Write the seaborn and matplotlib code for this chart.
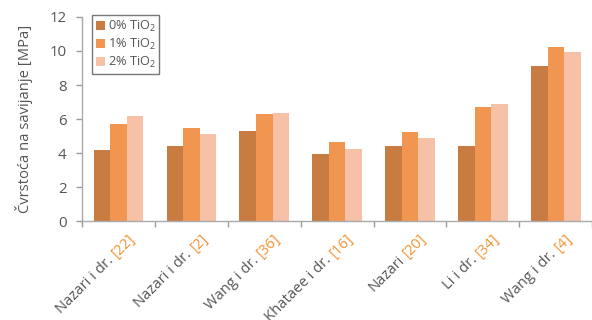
import matplotlib
matplotlib.use("Agg")
import matplotlib.pyplot as plt
import matplotlib.transforms as mtransforms
import seaborn as sns
import pandas as pd

authors = ["Nazari i dr.", "Nazari i dr.", "Wang i dr.", "Khataee i dr.", "Nazari", "Li i dr.", "Wang i dr."]
refs = ["[22]", "[2]", "[36]", "[16]", "[20]", "[34]", "[4]"]
series = ["0% TiO$_2$", "1% TiO$_2$", "2% TiO$_2$"]
tio2_0 = [4.2, 4.4, 5.3, 3.95, 4.4, 4.4, 9.1]
tio2_1 = [5.7, 5.5, 6.3, 4.65, 5.25, 6.7, 10.25]
tio2_2 = [6.2, 5.1, 6.35, 4.25, 4.9, 6.9, 9.95]
yticks = [0, 2, 4, 6, 8, 10, 12]

colors = ["#C87C42", "#F09650", "#F6C1A6"]
text_gray = "#555555"
ref_orange = "#F39232"

sns.set_style("white")
plt.rcParams["font.family"] = ["Open Sans", "DejaVu Sans"]
plt.rcParams["mathtext.default"] = "regular"

cats = [f"{a} {r}" for a, r in zip(authors, refs)]
rows = []
for name, vals in zip(series, [tio2_0, tio2_1, tio2_2]):
    for c, v in zip(cats, vals):
        rows.append({"cat": c, "serie": name, "val": v})
df = pd.DataFrame(rows)

fig = plt.figure(figsize=(5.92, 3.2), dpi=100)
ax = fig.add_axes([0.1385, 0.309, 0.862, 0.638])

sns.barplot(data=df, x="cat", y="val", hue="serie", palette=colors,
            saturation=1, width=0.68, linewidth=0, ax=ax)

ax.set_xlim(-0.5, len(cats) - 0.5)
ax.set_ylim(0, 12)
ax.set_yticks(yticks)
ax.set_xticks([i - 0.5 for i in range(len(cats) + 1)])
ax.set_xticklabels([])
ax.set_xlabel("")
ax.set_ylabel("Čvrstoća na savijanje [MPa]", fontsize=10.6, color=text_gray, labelpad=12)
ax.tick_params(axis="y", labelsize=10.8, labelcolor=text_gray, length=4, color="#999999", width=1, left=True, pad=7)
ax.tick_params(axis="x", length=4, color="#999999", width=1, bottom=True)
sns.despine(ax=ax)
for s in ["left", "bottom"]:
    ax.spines[s].set_color("#aaaaaa")
    ax.spines[s].set_linewidth(1)

leg = ax.legend(loc="upper left", bbox_to_anchor=(0.02, 1.01), borderaxespad=0,
                fontsize=9.2, frameon=True, fancybox=False, handlelength=0.7,
                handleheight=0.7, handletextpad=0.2, labelspacing=0.25,
                borderpad=0.3, labelcolor=text_gray)
leg.get_frame().set_edgecolor("#555555")
leg.get_frame().set_linewidth(1)

# two-coloured rotated category labels
fig.canvas.draw()
renderer = fig.canvas.get_renderer()
base = mtransforms.blended_transform_factory(ax.transData, ax.transAxes)
px = 72.0 / fig.dpi
fs = 10.6
for i, (a, r) in enumerate(zip(authors, refs)):
    tmp = ax.text(0, 0, r, fontsize=fs)
    w = tmp.get_window_extent(renderer).width + 4
    tmp.remove()
    off = mtransforms.ScaledTranslation(9 * px / 72, -10 * px / 72, fig.dpi_scale_trans)
    ax.text(i, 0, r, fontsize=fs, color=ref_orange, rotation=45, rotation_mode="anchor",
            ha="right", va="top", transform=base + off, clip_on=False)
    d = w * 0.7071
    off2 = mtransforms.ScaledTranslation((9 - d) * px / 72, (-10 - d) * px / 72, fig.dpi_scale_trans)
    ax.text(i, 0, a, fontsize=fs, color=text_gray, rotation=45, rotation_mode="anchor",
            ha="right", va="top", transform=base + off2, clip_on=False)

fig.savefig("out.png", dpi=100)
